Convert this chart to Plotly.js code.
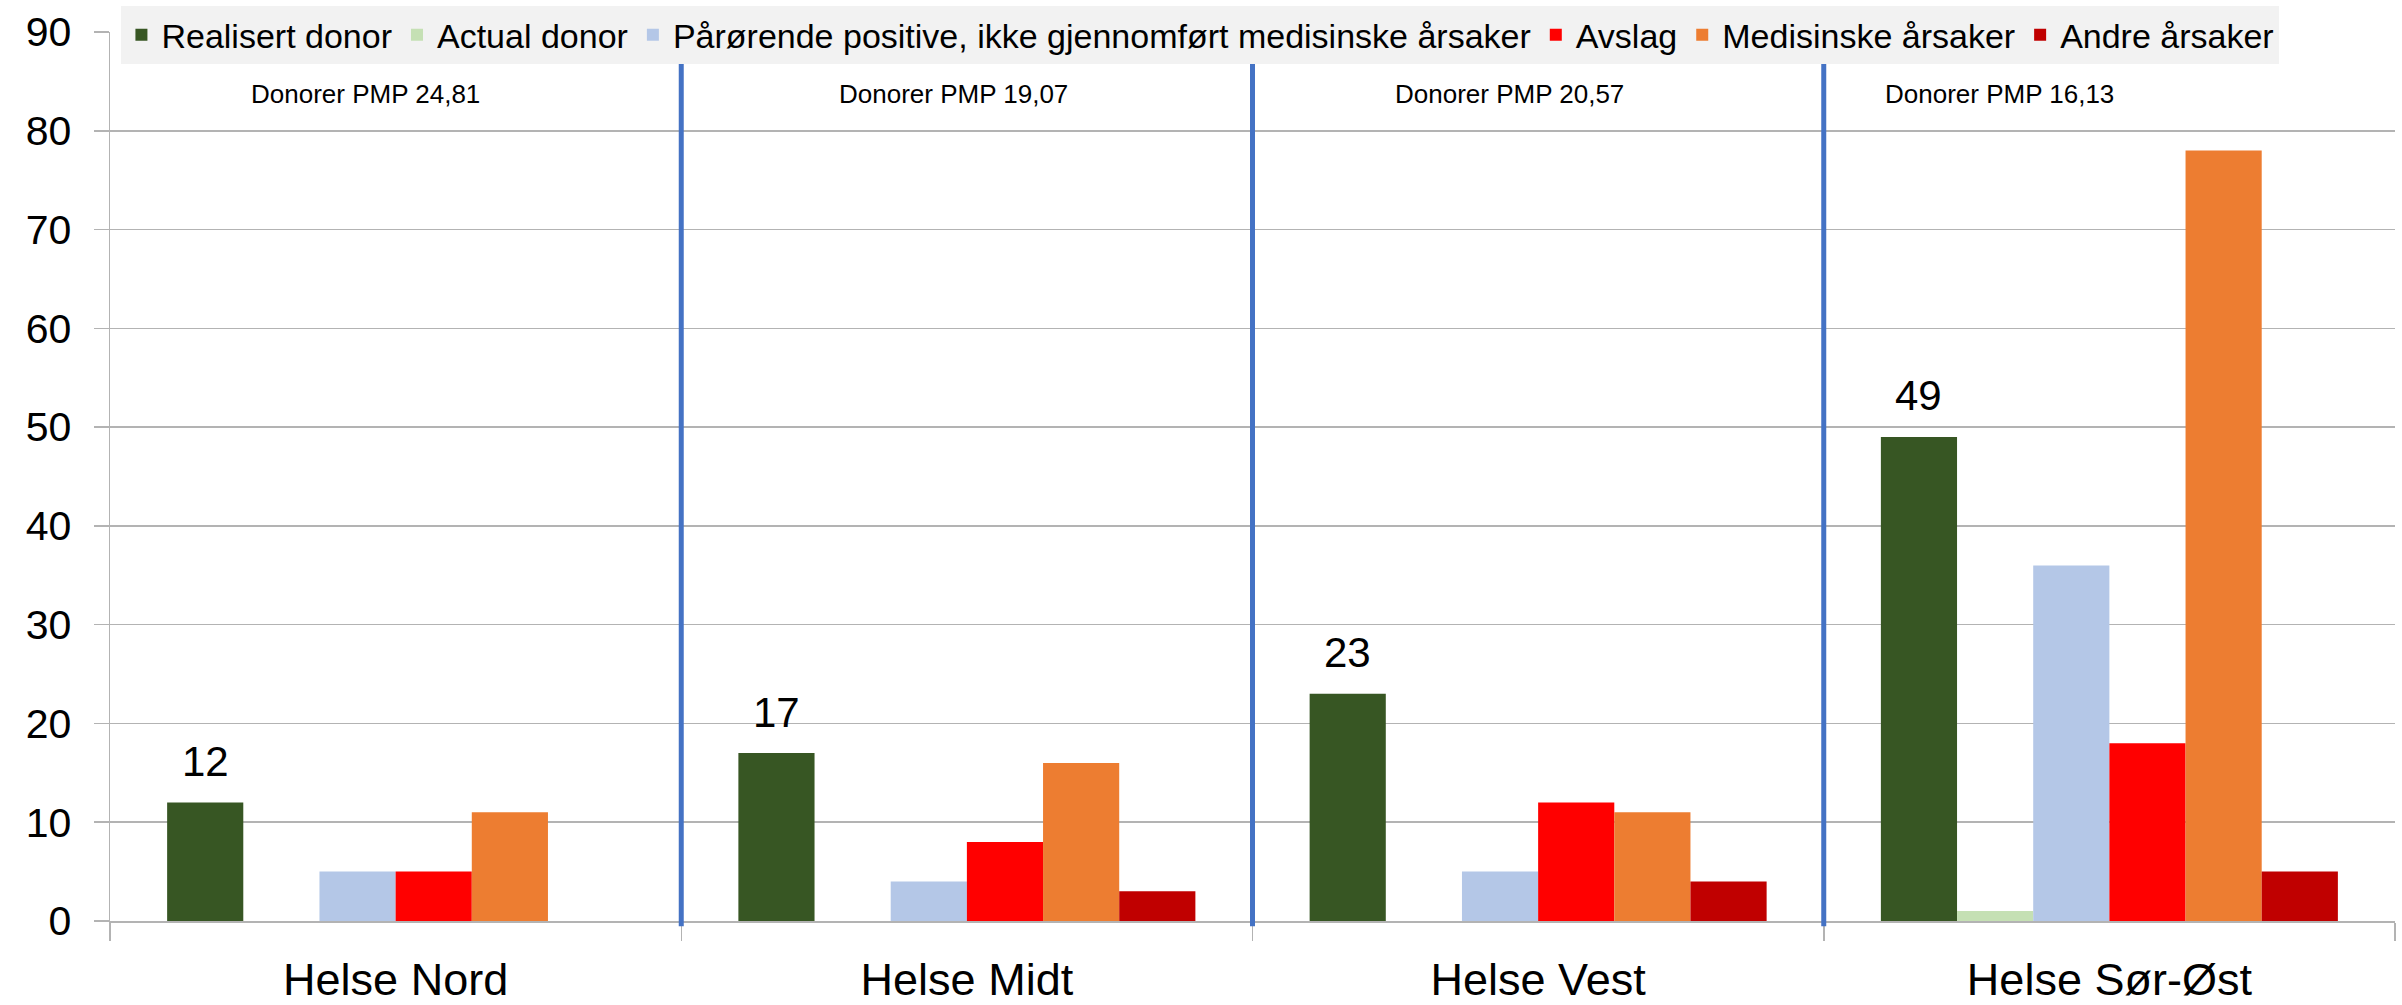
<!DOCTYPE html>
<html>
<head>
<meta charset="utf-8">
<script src="https://cdn.plot.ly/plotly-3.0.1.min.js"></script>
<style>html,body{margin:0;padding:0;background:#fff;}#chart{width:2402px;height:1005px;}</style>
</head>
<body>
<div id="chart"></div>
<script>
const categories = ["Helse Nord", "Helse Midt", "Helse Vest", "Helse Sør-Øst"];
const seriesNames = ["Realisert donor", "Actual donor", "Pårørende positive, ikke gjennomført medisinske årsaker", "Avslag", "Medisinske årsaker", "Andre årsaker"];
const realisertDonor = [12, 17, 23, 49];
const actualDonor = [0, 0, 0, 1];
const parorendePositive = [5, 4, 5, 36];
const avslag = [5, 8, 12, 18];
const medisinskeArsaker = [11, 16, 11, 78];
const andreArsaker = [0, 3, 4, 5];
const pmpLabels = ["Donorer PMP 24,81", "Donorer PMP 19,07", "Donorer PMP 20,57", "Donorer PMP 16,13"];
const yTicks = [0, 10, 20, 30, 40, 50, 60, 70, 80, 90];

const colors = ["#375623", "#c5e0b4", "#b4c7e7", "#ff0000", "#ed7d31", "#c00000"];
const allSeries = [realisertDonor, actualDonor, parorendePositive, avslag, medisinskeArsaker, andreArsaker];
const FONT = "Liberation Sans, Arial, sans-serif";

const W = 2402, H = 1005;
const margin = {l: 110, r: 7, t: 31, b: 84};
const bargap = 0.2;

const traces = allSeries.map((vals, i) => ({
  type: "bar",
  name: seriesNames[i],
  x: categories,
  y: vals,
  marker: {color: colors[i], line: {width: 0}},
  hoverinfo: "x+y+name"
}));

// bar-width in pixels derived from layout, used to centre the value labels over the first series
const plotW = W - margin.l - margin.r;
const catW = plotW / categories.length;
const barW = catW * (1 - bargap) / allSeries.length;
const firstBarOffset = -(allSeries.length - 1) / 2 * barW;

const annotations = [];
realisertDonor.forEach((v, i) => {
  annotations.push({text: String(v), x: categories[i], xref: "x", y: v, yref: "y",
    xshift: firstBarOffset, yshift: 41, yanchor: "middle", xanchor: "center", showarrow: false,
    font: {family: FONT, size: 42, color: "#000"}});
});
const annXShift = [-30, -13, -29, -110];
pmpLabels.forEach((txt, i) => {
  annotations.push({text: txt, x: categories[i], xref: "x", y: 0.93, yref: "paper",
    yanchor: "middle", xanchor: "center",
    xshift: annXShift[i], showarrow: false,
    font: {family: FONT, size: 26, color: "#000"}});
});

const shapes = [];
for (let i = 1; i < categories.length; i++) {
  shapes.push({type: "line", xref: "x", yref: "paper", x0: i - 0.5, x1: i - 0.5, y0: -0.006, y1: 0.968,
    line: {color: "#4472c4", width: 5}, layer: "above"});
}

const layout = {
  width: W, height: H,
  margin: margin,
  paper_bgcolor: "#fff", plot_bgcolor: "#fff",
  barmode: "group", bargap: bargap, bargroupgap: 0,
  showlegend: true,
  legend: {orientation: "h", x: 0.005, xanchor: "left", y: 1.028, yanchor: "top",
    bgcolor: "#f2f2f2", font: {family: FONT, size: 34, color: "#000"},
    itemwidth: 30, tracegroupgap: 0},
  xaxis: {type: "category", showline: true, linecolor: "#b3b3b3", linewidth: 2,
    ticks: "outside", tickson: "boundaries", ticklen: 18, tickcolor: "#b3b3b3", tickwidth: 1.5,
    tickfont: {family: FONT, size: 45, color: "#000"},
    ticklabelstandoff: 18, showgrid: false, zeroline: false},
  yaxis: {range: [0, 90], tickvals: yTicks, showline: true, linecolor: "#b3b3b3", linewidth: 1.5,
    ticks: "outside", ticklen: 15, tickcolor: "#b3b3b3", tickwidth: 1.5,
    tickfont: {family: FONT, size: 41, color: "#000"},
    ticklabelstandoff: 14,
    showgrid: true, gridcolor: "#b3b3b3", gridwidth: 1.5, zeroline: false},
  annotations: annotations,
  shapes: shapes
};

Plotly.newPlot("chart", traces, layout, {displayModeBar: false, staticPlot: true});
</script>
</body>
</html>
